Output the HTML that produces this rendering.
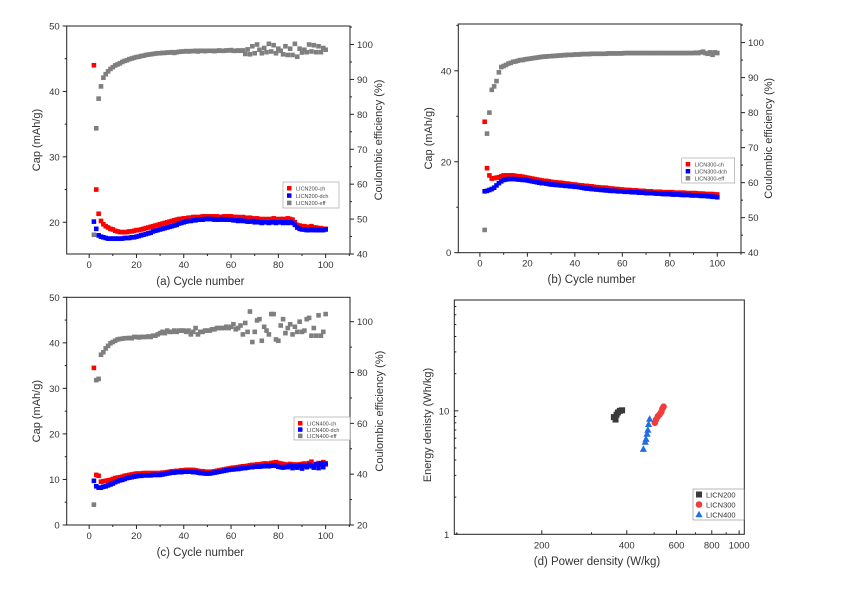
<!DOCTYPE html>
<html><head><meta charset="utf-8">
<style>
html,body{margin:0;padding:0;background:#fff;}
svg{display:block;font-family:"Liberation Sans",sans-serif;}
</style></head>
<body>
<svg id="fig" width="845" height="595" viewBox="0 0 845 595" xmlns="http://www.w3.org/2000/svg"></svg>
<script>
// ---------- DATA ----------
const cycleStart = 2; // cycles 2..100
const aCh = [44,25,21.3,20.2,19.7,19.4,19.2,19.0,18.9,18.7,18.6,18.5,18.5,18.5,18.5,18.6,18.6,18.7,18.8,18.8,18.9,19.0,19.1,19.2,19.3,19.4,19.5,19.6,19.7,19.8,19.9,20.0,20.1,20.2,20.3,20.4,20.5,20.5,20.6,20.6,20.7,20.7,20.8,20.8,20.8,20.8,20.9,20.9,20.9,20.9,20.9,20.9,20.9,20.8,20.8,20.9,20.9,20.9,20.9,20.8,20.8,20.8,20.7,20.8,20.7,20.6,20.7,20.6,20.5,20.6,20.5,20.4,20.5,20.4,20.5,20.4,20.6,20.5,20.4,20.5,20.5,20.4,20.6,20.5,20.4,20.0,19.6,19.5,19.4,19.4,19.3,19.3,19.4,19.2,19.2,19.1,19.1,19.0,19.0];
const aDch = [20.1,19.0,18.0,17.8,17.7,17.6,17.5,17.5,17.5,17.5,17.5,17.5,17.5,17.6,17.6,17.6,17.7,17.7,17.8,17.9,18.0,18.1,18.2,18.3,18.4,18.6,18.7,18.8,18.9,19.0,19.1,19.2,19.3,19.4,19.5,19.6,19.8,19.9,20.0,20.1,20.2,20.2,20.3,20.3,20.4,20.4,20.4,20.5,20.5,20.5,20.5,20.4,20.4,20.4,20.5,20.4,20.4,20.4,20.4,20.3,20.3,20.2,20.3,20.2,20.2,20.1,20.1,20.2,20.0,20.1,20.0,19.9,20.0,20.0,19.9,20.0,20.0,19.9,20.0,20.0,19.9,20.0,19.9,20.0,19.9,19.6,19.2,19.0,18.9,18.9,18.8,18.8,18.9,18.8,18.8,18.8,18.8,18.8,18.9];
const aEff = [45.5,76,84.5,88,90.5,91.5,92.3,93,93.5,94,94.3,94.6,95,95.3,95.5,95.8,96,96.2,96.4,96.5,96.7,96.8,97,97.1,97.2,97.3,97.4,97.5,97.5,97.6,97.6,97.7,97.7,97.8,97.6,97.8,97.9,98,98,98.1,98,98.1,98.1,98.2,98,98.2,98.2,98.1,98.2,98.2,98.2,98.1,98.2,98.3,98.2,98.2,98.3,98.3,98.4,98.2,98.2,98.3,98.2,98.3,97.3,98.6,97.2,99.5,97.5,100,98.5,97.5,99,97.8,100.2,98,99.8,97.5,98.8,98.2,97.2,99.5,97,98.8,97,100.2,96.5,98.8,97.7,98.5,97.8,100,98,99.8,97.8,99.5,97.8,99,98.5];
const bCh = [28.8,18.6,17,16.3,16.4,16.5,16.6,16.8,17,17,17,17,17,16.9,16.8,16.8,16.7,16.6,16.5,16.4,16.3,16.2,16.1,16,15.9,15.8,15.8,15.7,15.6,15.5,15.5,15.4,15.4,15.3,15.2,15.2,15.1,15,15,14.9,14.8,14.8,14.7,14.7,14.6,14.6,14.5,14.4,14.4,14.3,14.3,14.3,14.2,14.1,14.1,14,14,13.9,13.9,13.8,13.8,13.8,13.7,13.7,13.7,13.6,13.6,13.6,13.5,13.5,13.5,13.4,13.4,13.4,13.4,13.3,13.3,13.3,13.3,13.3,13.2,13.2,13.2,13.2,13.2,13.1,13.1,13.1,13.1,13.1,13,13,13,12.9,12.9,12.9,12.9,12.8,12.8];
const bDch = [13.5,13.6,13.8,14,14.3,14.8,15.3,15.7,16,16.1,16.2,16.2,16.2,16.2,16.1,16.1,16,16,15.9,15.8,15.7,15.6,15.5,15.4,15.3,15.3,15.2,15.1,15,15,14.9,14.9,14.8,14.8,14.7,14.7,14.6,14.6,14.5,14.5,14.4,14.3,14.2,14.1,14.1,14,14,13.9,13.9,13.8,13.8,13.7,13.7,13.6,13.6,13.6,13.5,13.5,13.5,13.4,13.4,13.4,13.3,13.3,13.3,13.2,13.2,13.2,13.1,13.1,13.1,13.1,13,13,13,12.9,12.9,12.9,12.9,12.8,12.8,12.8,12.8,12.7,12.7,12.7,12.7,12.6,12.6,12.6,12.6,12.5,12.5,12.5,12.4,12.4,12.3,12.3,12.2];
const bEff = [46.5,74,80,86.5,87.5,89,91.5,93,93.3,93.6,94,94.2,94.5,94.6,94.8,95,95,95.2,95.3,95.4,95.5,95.6,95.7,95.8,95.9,96,96,96.1,96.1,96.2,96.2,96.3,96.3,96.4,96.4,96.5,96.5,96.5,96.6,96.6,96.6,96.7,96.7,96.7,96.7,96.8,96.8,96.8,96.8,96.8,96.8,96.8,96.9,96.9,96.9,96.9,96.9,96.9,96.9,97,97,97,97,97,97,97,97,97,97,97,97,97,97,97,97,97,97,97,97,97,97,97,97,97,97,97,97,97,97,97.1,97,97.2,97.4,97,96.8,97.2,96.5,97.2,97];
const cCh = [34.5,11,10.8,9.5,9.6,9.7,9.8,9.9,10.1,10.3,10.4,10.5,10.6,10.8,10.9,11,11.1,11.2,11.3,11.3,11.3,11.4,11.4,11.4,11.4,11.4,11.4,11.4,11.4,11.5,11.5,11.6,11.7,11.8,11.8,11.9,11.9,12,12,12.1,12.1,12.1,12.1,12,11.9,11.8,11.8,11.7,11.7,11.7,11.7,11.8,11.9,12,12.1,12.2,12.3,12.4,12.5,12.6,12.6,12.7,12.8,12.9,12.9,13,13.1,13.2,13.2,13.3,13.3,13.4,13.5,13.5,13.4,13.6,13.7,13.8,13.6,13.5,13.4,13.3,13.2,13.4,13.2,13.3,13.1,13.3,13.4,13.5,13.3,13.6,13.9,13.2,13.4,13.6,13.2,13.8,13.3];
const cDch = [9.7,8.5,8.2,8.2,8.4,8.5,8.7,8.9,9.1,9.4,9.6,9.8,9.9,10.1,10.3,10.4,10.5,10.6,10.7,10.8,10.8,10.9,10.9,10.9,10.9,11,11,11,11,11.1,11.2,11.3,11.4,11.5,11.5,11.6,11.6,11.6,11.7,11.7,11.7,11.7,11.6,11.6,11.5,11.4,11.4,11.3,11.3,11.3,11.4,11.5,11.6,11.7,11.8,11.9,12,12.1,12.2,12.2,12.3,12.3,12.4,12.5,12.5,12.6,12.7,12.7,12.8,12.8,12.8,12.9,12.9,13,12.9,13,13.1,13,12.8,12.7,12.6,12.8,12.7,13,12.5,12.9,12.6,13.1,12.4,13,12.7,13.2,12.9,12.6,13.3,12.5,13.5,12.7,13.5];
const cEff = [28,77,77.5,87,88,89.5,90.5,91.5,92,92.5,93,93.2,93.3,93.5,93.5,93.6,93.5,94,94,93.8,94,94,94,94.2,94,94.5,94.5,95,95.5,96,95.5,96.5,96,96,96.5,96,96.5,96.5,96.5,96,96.5,95,96,97.5,95,96,96,96.5,96.5,96.5,97,97,97.5,97.5,97.5,97.5,98,97.5,98,99,97,97.5,98.5,95,99.5,96,104,92,96,100.5,101,92.5,98,96.5,95,103,103,93,92.5,98.5,101,95.5,97.5,99,95,98,96,100,96,96.5,101,101.5,94.5,97.5,94.5,102.5,94.5,96,103];
const d200P = [360,365,368,372,378,385];
const d200E = [8.9,8.5,9.3,9.7,10,10.1];
const d300P = [503,508,515,522,530,535,540];
const d300E = [8.0,8.5,9.0,9.3,9.8,10.4,10.8];
const d400P = [458,465,468,472,475,478,482];
const d400E = [4.9,5.6,5.9,6.5,7.0,7.8,8.6];
const xTicks = [0,20,40,60,80,100];
const aLeftTicks = [20,30,40,50], aRightTicks = [40,50,60,70,80,90,100];
const bLeftTicks = [0,20,40], bRightTicks = [40,50,60,70,80,90,100];
const cLeftTicks = [0,10,20,30,40,50], cRightTicks = [20,40,60,80,100];
const dXTicks = [200,400,600,800,1000], dYTicks = [1,10];

// ---------- HELPERS ----------
const NS = "http://www.w3.org/2000/svg";
const svg = document.getElementById('fig');
function mk(tag, attrs, parent, text){
  const e = document.createElementNS(NS, tag);
  for (const k in attrs) e.setAttribute(k, attrs[k]);
  if (text !== undefined) e.textContent = text;
  (parent || svg).appendChild(e);
  return e;
}
function lin(d0,d1,r0,r1){ return v => r0 + (v-d0)/(d1-d0)*(r1-r0); }
function logs(d0,d1,r0,r1){ return v => r0 + (Math.log10(v)-Math.log10(d0))/(Math.log10(d1)-Math.log10(d0))*(r1-r0); }

function cyclePanel(id, box, xr, yl, yr, lt, lmin, rt, rmin, ch, dch, eff, names, leg, title, labX, rLabX){
  const g = mk('g', {}); 
  
  
  const [L,T,R,B] = box;
  const X = lin(xr[0], xr[1], L, R), Y = lin(yl[0], yl[1], B, T), YR = lin(yr[0], yr[1], B, T);
  // series
  const series = [[eff, YR, '#7f7f7f', names[2]], [ch, Y, '#ff0000', names[0]], [dch, Y, '#0000ff', names[1]]];
  const order = [1,2,0];
  for (const si of order){
    const [arr, sc, col, nm] = series[si];
    const sg = mk('g', {}, g);
    
    
    arr.forEach((v, i) => {
      const cx = X(cycleStart + i), cy = sc(v);
      if (cy < T - 1 || cy > B + 1) return;
      const r = mk('rect', {x: cx - 2.3, y: cy - 2.3, width: 4.6, height: 4.6, fill: col}, sg);
      
      
    });
  }
  // frame
  const fr = mk('rect', {x: L, y: T, width: R-L, height: B-T, fill: 'none', stroke: '#222', 'stroke-width': 1}, g);
  
  
  // x ticks
  for (let v = -10; v <= 110; v += 10){
    const x = X(v); if (x < L || x > R) continue;
    const major = v % 20 === 0;
    mk('line', {x1: x, x2: x, y1: B, y2: B + (major ? 4 : 2), stroke: '#222'}, g);
  }
  xTicks.forEach(v => {
    const t = mk('text', {x: X(v), y: B + 14, 'font-size': 9.5, 'text-anchor': 'middle', fill: '#333'}, g, v);
    
    
  });
  lmin.forEach(v => mk('line', {x1: L-2, x2: L, y1: Y(v), y2: Y(v), stroke: '#222'}, g));
  lt.forEach(v => {
    mk('line', {x1: L-4, x2: L, y1: Y(v), y2: Y(v), stroke: '#222'}, g);
    const t = mk('text', {x: L - 7, y: Y(v) + 3.5, 'font-size': 9.5, 'text-anchor': 'end', fill: '#333'}, g, v);
    
    
  });
  rmin.forEach(v => mk('line', {x1: R, x2: R+2, y1: YR(v), y2: YR(v), stroke: '#222'}, g));
  rt.forEach(v => {
    mk('line', {x1: R, x2: R+4, y1: YR(v), y2: YR(v), stroke: '#222'}, g);
    const t = mk('text', {x: R + 7, y: YR(v) + 3.5, 'font-size': 9.5, fill: '#333'}, g, v);
    
    
  });
  const cy = (T + B) / 2;
  const yl1 = mk('text', {x: labX, y: cy, 'font-size': 11, 'text-anchor': 'middle', fill: '#333', transform: `rotate(-90 ${labX} ${cy})`}, g, 'Cap (mAh/g)');
  
  
  const yl2 = mk('text', {x: rLabX, y: cy, 'font-size': 11, 'text-anchor': 'middle', fill: '#333', transform: `rotate(-90 ${rLabX} ${cy})`}, g, 'Coulombic efficiency (%)');
  
  
  const xt = mk('text', {x: (L+R)/2 - 8, y: title, 'font-size': 11.5, 'text-anchor': 'middle', fill: '#333'}, g, '(' + id + ') Cycle number');
  
  
  // legend
  const [lx, ly, lw, lh] = leg;
  const lg = mk('g', {}, g);
  
  
  mk('rect', {x: lx, y: ly, width: lw, height: lh, fill: '#fff', stroke: '#999', 'stroke-width': 0.6}, lg);
  const cols = ['#ff0000', '#0000ff', '#7f7f7f'];
  names.forEach((n, i) => {
    const yy = ly + 4.5 + i * (lh - 4) / 3 + 2;
    mk('rect', {x: lx + 4, y: yy - 2.5, width: 4.5, height: 4.5, fill: cols[i]}, lg);
    const t = mk('text', {x: lx + 13, y: yy + 2, 'font-size': 5.5, fill: '#444'}, lg, n);
    
    
  });
}

cyclePanel('a', [66.7, 26, 350, 254], [-9.5, 110.3], [15.15, 50], [40, 105.3],
  aLeftTicks, [25,35,45], aRightTicks, [45,55,65,75,85,95,105], aCh, aDch, aEff,
  ['LICN200-ch','LICN200-dch','LICN200-eff'], [283, 182, 56, 26], 285, 40, 382);
cyclePanel('b', [458.3, 24, 741, 252.7], [-9.1, 110], [0, 50.3], [40, 105.3],
  bLeftTicks, [10,30,50], bRightTicks, [45,55,65,75,85,95,105], bCh, bDch, bEff,
  ['LICN300-ch','LICN300-dch','LICN300-eff'], [681.7, 158, 53, 25], 283, 432, 772);
cyclePanel('c', [66.7, 297.3, 350, 525], [-9.5, 110.3], [0, 50], [20, 109.6],
  cLeftTicks, [5,15,25,35,45], cRightTicks, [30,50,70,90], cCh, cDch, cEff,
  ['LICN400-ch','LICN400-dch','LICN400-eff'], [294, 417, 56, 23], 556, 40, 383);

// ---------- PANEL D ----------
(function(){
  const g = mk('g', {});
  
  
  const L = 454.3, T = 300, R = 744.3, B = 534.3;
  const X = logs(98, 1043, L, R), Y = logs(1, 79, B, T);
  const fr = mk('rect', {x: L, y: T, width: R-L, height: B-T, fill: 'none', stroke: '#222', 'stroke-width': 1}, g);
  
  
  for (let v = 100; v <= 1000; v += 100){
    const x = X(v); if (x < L || x > R + 0.5) continue;
    const major = dXTicks.includes(v);
    mk('line', {x1: x, x2: x, y1: B, y2: B - (major ? 4 : 2), stroke: '#222'}, g);
  }
  dXTicks.forEach(v => {
    const t = mk('text', {x: X(v), y: B + 14, 'font-size': 9.5, 'text-anchor': 'middle', fill: '#333'}, g, v);
    
    
  });
  [2,3,4,5,6,7,8,9,20,30,40,50,60,70].forEach(v => mk('line', {x1: L, x2: L + 2, y1: Y(v), y2: Y(v), stroke: '#222'}, g));
  dYTicks.forEach(v => {
    mk('line', {x1: L, x2: L + 4, y1: Y(v), y2: Y(v), stroke: '#222'}, g);
    const t = mk('text', {x: L - 5, y: Y(v) + 3.5, 'font-size': 9.5, 'text-anchor': 'end', fill: '#333'}, g, v);
    
    
  });
  const yt = mk('text', {x: 431, y: 425, 'font-size': 11, 'text-anchor': 'middle', fill: '#333', transform: 'rotate(-90 431 425)'}, g, 'Energy denisty (Wh/kg)');
  
  
  const xt = mk('text', {x: 597, y: 565, 'font-size': 11.5, 'text-anchor': 'middle', fill: '#333'}, g, '(d) Power density (W/kg)');
  
  
  function marker(shape, cx, cy, col, parent){
    let e;
    if (shape === 'sq') e = mk('rect', {x: cx-3, y: cy-3, width: 6, height: 6, fill: col}, parent);
    else if (shape === 'ci') e = mk('circle', {cx: cx, cy: cy, r: 3.3, fill: col}, parent);
    else e = mk('polygon', {points: `${cx},${cy-3.8} ${cx+3.6},${cy+2.8} ${cx-3.6},${cy+2.8}`, fill: col}, parent);
    return e;
  }
  const sets = [[d200P, d200E, 'sq', '#3a3a3a', 'LICN200'], [d300P, d300E, 'ci', '#f03c3c', 'LICN300'], [d400P, d400E, 'tr', '#1f6fe0', 'LICN400']];
  sets.forEach(([P, E, sh, col, nm]) => {
    const sg = mk('g', {}, g);
    
    
    P.forEach((p, i) => {
      const m = marker(sh, X(p), Y(E[i]), col, sg);
      
      
    });
  });
  const lg = mk('g', {}, g);
  
  
  mk('rect', {x: 693, y: 489, width: 51, height: 31, fill: '#fff', stroke: '#888', 'stroke-width': 0.6}, lg);
  sets.forEach(([P, E, sh, col, nm], i) => {
    const yy = 494.5 + i * 10;
    marker(sh, 699, yy, col, lg);
    const t = mk('text', {x: 706, y: yy + 3, 'font-size': 7.5, fill: '#333'}, lg, nm);
    
    
  });
})();
</script>
</body></html>
